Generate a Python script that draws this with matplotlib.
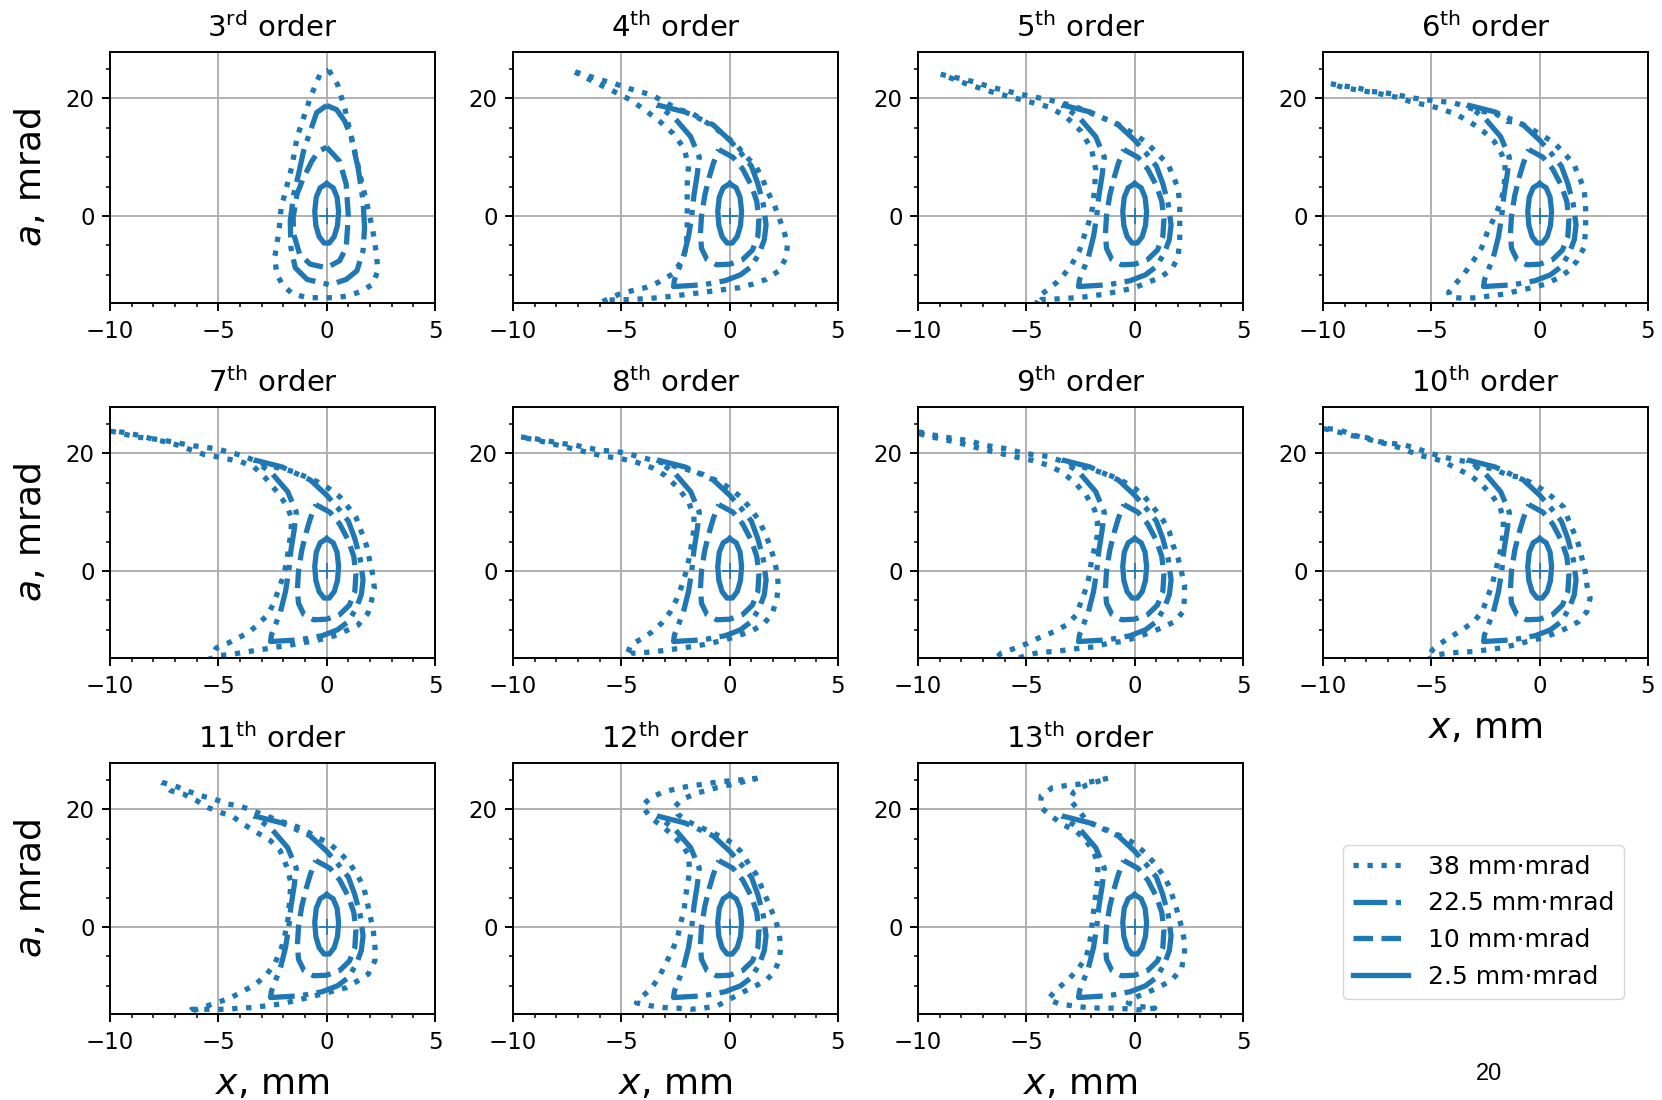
import matplotlib
matplotlib.use("Agg")
import matplotlib.pyplot as plt
from matplotlib.ticker import MultipleLocator

BLUE = "#1f77b4"
FIG_W, FIG_H = 1662, 1100

# panel order numbers (row by row), the last grid slot holds the legend
ORDERS = [3, 4, 5, 6, 7, 8, 9, 10, 11, 12, 13]
EMITTANCE_LABELS = ["38 mm\u00b7mrad", "22.5 mm\u00b7mrad", "10 mm\u00b7mrad", "2.5 mm\u00b7mrad"]
LINE_STYLES = [":", "-.", "--", "-"]

# 2.5 mm mrad contour (same in all orders)
E25 = [(0.0, 5.5), (0.3, 4.8), (0.48, 3.2), (0.55, 0.8), (0.5, -1.6), (0.35, -3.5),
       (0.12, -4.6), (-0.12, -4.6), (-0.35, -3.5), (-0.5, -1.6), (-0.55, 0.8),
       (-0.48, 3.2), (-0.3, 4.8), (0.0, 5.5)]

# 10 mm mrad contours
C10_3 = [(0.0, 11.7), (0.6, 9.3), (0.9, 5.4), (1.0, 0.0), (0.9, -5.4), (0.6, -7.6),
         (0.0, -8.8), (-0.76, -8.2), (-1.25, -6.5), (-1.52, -3.1), (-1.55, -0.3),
         (-1.37, 3.7), (-1.07, 6.5), (-0.69, 9.3), (-0.38, 11.0), (0.0, 11.7)]
C10 = [(-0.5, 11.3), (0.15, 10.0), (0.6, 8.0), (1.0, 5.2), (1.25, 2.5), (1.35, -0.5),
       (1.3, -3.5), (1.05, -5.8), (0.6, -7.4), (0.0, -8.2), (-0.6, -8.3), (-1.05, -7.4),
       (-1.3, -5.5), (-1.35, -3.0), (-1.3, 0.0), (-1.15, 3.5), (-0.95, 6.5), (-0.75, 9.0),
       (-0.5, 11.3)]

# 22.5 mm mrad contours
C225_3 = [(0.0, 18.8), (0.46, 18.1), (0.84, 16.1), (1.14, 13.3), (1.45, 8.2), (1.68, 2.5),
          (1.75, -2.0), (1.68, -5.9), (1.4, -9.3), (0.9, -10.8), (0.15, -11.7), (-0.9, -10.8),
          (-1.45, -8.8), (-1.65, -5.4), (-1.68, -0.85), (-1.52, 3.7), (-1.3, 7.1),
          (-1.07, 11.0), (-0.76, 14.4), (-0.46, 17.6), (0.0, 18.8)]
C225 = [(-3.35, 18.9), (-2.06, 17.7), (-0.76, 15.5), (0.0, 12.9), (0.5, 10.8), (1.0, 8.5),
        (1.3, 5.5), (1.55, 2.0), (1.68, -1.5), (1.6, -4.0), (1.37, -6.3), (1.0, -8.6),
        (0.5, -10.0), (-0.2, -11.0), (-1.22, -11.7), (-2.59, -12.0), (-2.55, -10.9),
        (-2.13, -6.9), (-1.9, -3.5), (-1.75, 0.0), (-1.65, 3.5), (-1.5, 7.0), (-1.4, 10.0),
        (-1.8, 13.5), (-2.5, 16.5), (-3.35, 18.9)]

# 38 mm mrad contours, one per order
O38_3 = [(0.1, 24.8), (0.5, 22.4), (0.85, 18.1), (1.0, 15.6), (1.22, 12.2), (1.45, 8.5),
         (1.68, 4.8), (1.9, 1.4), (2.13, -2.5), (2.3, -6.5), (2.36, -9.3), (2.13, -11.6),
         (1.6, -12.8), (1.0, -13.6), (0.3, -13.9), (-0.9, -13.9), (-1.6, -13.2), (-2.05, -11.6),
         (-2.3, -9.9), (-2.4, -7.1), (-2.2, -2.5), (-2.1, 1.4), (-1.9, 4.2), (-1.6, 8.5),
         (-1.37, 13.3), (-1.14, 15.9), (-0.76, 20.1), (-0.3, 24.2), (0.1, 24.8)]
O38_4 = [(-7.13, 24.5), (-6.5, 23.8), (-5.9, 23.1), (-5.3, 22.5), (-4.66, 21.7), (-4.1, 21.1),
         (-3.6, 20.6), (-2.96, 19.3), (-2.35, 18.1), (-1.8, 17.6), (-1.27, 16.4), (-0.65, 14.9),
         (-0.19, 13.6), (0.28, 12.2), (0.74, 10.2), (1.2, 8.5), (1.5, 6.5), (1.74, 4.2),
         (2.05, 2.0), (2.28, -0.3), (2.5, -2.5), (2.67, -4.8), (2.6, -7.1), (2.28, -9.3),
         (1.67, -10.8), (1.05, -11.6), (0.43, -12.2), (-0.65, -12.7), (-1.88, -13.3),
         (-3.27, -13.9), (-4.5, -14.2), (-5.6, -14.3), (-5.9, -14.6), (-5.1, -13.3),
         (-4.5, -12.7), (-3.9, -12.2), (-3.3, -11.3), (-2.65, -9.9), (-2.2, -7.6), (-2.0, -5.4),
         (-1.96, -2.0), (-1.96, 2.5), (-1.96, 5.4), (-1.9, 8.5), (-2.1, 11.5), (-2.6, 14.0),
         (-3.2, 16.0), (-3.9, 18.0), (-4.6, 19.8), (-5.4, 21.3), (-6.2, 22.7), (-7.13, 24.5)]
O38_5 = [(-8.95, 24.1), (-7.7, 23.1), (-6.5, 21.8), (-5.25, 20.7), (-4.0, 19.8), (-2.8, 18.7),
         (-1.7, 17.0), (-0.9, 15.9), (-0.46, 14.9), (0.0, 13.9), (0.54, 12.5), (1.08, 10.5),
         (1.54, 8.8), (1.77, 6.8), (2.0, 4.8), (2.08, 2.0), (2.08, -0.85), (2.08, -4.2),
         (2.0, -7.1), (1.7, -9.1), (1.16, -10.5), (0.6, -11.3), (0.0, -12.2), (-0.6, -12.7),
         (-1.4, -13.3), (-2.0, -13.6), (-2.6, -13.9), (-3.25, -14.0), (-3.85, -14.2),
         (-4.3, -14.2), (-4.6, -15.3), (-4.3, -13.3), (-4.0, -12.5), (-3.6, -11.3),
         (-3.25, -9.9), (-2.9, -8.2), (-2.55, -5.9), (-2.3, -3.1), (-2.1, -0.85), (-1.95, 1.4),
         (-1.85, 4.5), (-1.8, 8.0), (-2.0, 11.5), (-2.5, 14.5), (-3.2, 17.0), (-4.0, 18.6),
         (-5.25, 19.8), (-6.5, 21.0), (-7.7, 22.4), (-8.95, 24.1)]
O38_6 = [(-9.64, 22.5), (-9.0, 22.1), (-8.4, 21.8), (-7.8, 21.2), (-7.2, 21.0), (-6.55, 20.6),
         (-5.9, 20.1), (-5.3, 19.8), (-4.6, 19.5), (-4.0, 19.3), (-3.5, 18.7), (-2.75, 17.8),
         (-2.1, 17.6), (-1.5, 16.1), (-0.98, 15.9), (-0.43, 14.9), (0.03, 13.9), (0.65, 12.5),
         (1.1, 10.8), (1.58, 8.8), (1.8, 6.8), (2.04, 4.8), (2.12, 2.0), (2.12, -0.3),
         (2.12, -2.5), (2.04, -5.4), (1.73, -7.6), (1.35, -9.3), (0.88, -10.5), (0.26, -11.6),
         (-0.36, -12.2), (-0.98, -12.7), (-1.67, -13.3), (-2.3, -13.6), (-2.9, -13.9),
         (-3.53, -14.0), (-4.15, -13.8), (-4.2, -13.0), (-3.9, -11.6), (-3.5, -9.9),
         (-3.06, -7.6), (-2.68, -5.4), (-2.45, -3.1), (-2.14, -0.6), (-1.83, 2.0), (-1.67, 4.2),
         (-1.6, 6.8), (-1.6, 8.8), (-1.75, 10.5), (-2.1, 12.7), (-2.6, 14.4), (-3.06, 15.6),
         (-3.84, 17.3), (-4.7, 18.4), (-5.4, 19.0), (-6.0, 19.5), (-6.6, 20.2), (-7.25, 20.7),
         (-7.85, 21.1), (-8.5, 21.5), (-9.1, 21.9), (-9.64, 22.5)]
O38_7 = [(-10.6, 24.2), (-9.83, 23.7), (-8.77, 22.8), (-7.6, 22.3), (-6.33, 21.4), (-5.1, 20.8),
         (-3.96, 19.7), (-2.74, 18.0), (-1.52, 16.9), (-0.38, 15.1), (0.08, 14.1), (0.61, 12.6),
         (0.99, 10.9), (1.37, 9.0), (1.6, 6.7), (1.83, 4.4), (1.98, 1.9), (2.13, -0.7),
         (2.2, -2.9), (2.06, -5.2), (1.9, -7.2), (1.45, -9.2), (0.99, -10.0), (0.46, -10.9),
         (0.0, -11.4), (-0.6, -11.9), (-1.22, -12.3), (-1.83, -12.7), (-2.44, -13.0),
         (-3.05, -13.4), (-3.8, -13.8), (-4.4, -14.2), (-5.03, -14.4), (-5.4, -15.0),
         (-5.1, -13.1), (-4.57, -12.3), (-4.1, -11.4), (-3.66, -10.6), (-3.2, -9.2),
         (-2.74, -7.5), (-2.44, -5.5), (-2.2, -2.9), (-1.98, -0.7), (-1.83, 1.9), (-1.75, 4.1),
         (-1.65, 6.4), (-1.62, 9.0), (-1.85, 11.2), (-2.3, 13.5), (-2.82, 15.8), (-3.35, 17.7),
         (-3.96, 18.6), (-5.03, 19.4), (-5.64, 19.8), (-6.25, 20.6), (-6.86, 21.4),
         (-7.47, 22.0), (-8.08, 22.5), (-8.7, 23.1), (-9.4, 23.6), (-10.6, 24.2)]
O38_8 = [(-9.63, 22.8), (-8.98, 22.5), (-8.36, 22.1), (-7.75, 21.7), (-7.13, 21.4), (-6.5, 20.9),
         (-5.9, 20.5), (-5.3, 20.4), (-4.66, 19.9), (-4.04, 19.3), (-3.4, 18.7), (-2.8, 18.1),
         (-2.0, 17.3), (-1.2, 16.4), (-0.5, 15.2), (0.0, 14.1), (0.5, 12.6), (0.9, 10.9),
         (1.3, 8.9), (1.6, 6.7), (1.85, 4.4), (2.05, 2.0), (2.2, -0.5), (2.25, -2.9),
         (2.15, -5.2), (1.95, -7.3), (1.55, -9.1), (1.0, -10.2), (0.4, -11.0), (-0.2, -11.7),
         (-0.9, -12.3), (-1.6, -12.8), (-2.4, -13.2), (-3.2, -13.6), (-4.0, -13.9),
         (-4.58, -14.0), (-4.75, -14.5), (-4.58, -12.6), (-4.1, -11.6), (-3.6, -10.4),
         (-3.15, -8.9), (-2.75, -7.0), (-2.45, -4.8), (-2.2, -2.4), (-2.0, 0.0), (-1.85, 2.5),
         (-1.75, 4.8), (-1.65, 7.0), (-1.65, 9.3), (-1.9, 11.8), (-2.4, 14.2), (-3.0, 16.3),
         (-3.6, 17.6), (-4.3, 18.5), (-5.0, 19.1), (-5.9, 19.6), (-6.8, 20.4), (-7.7, 21.2),
         (-8.6, 22.0), (-9.63, 22.8)]
O38_9 = [(-10.6, 24.1), (-10.0, 23.7), (-9.4, 23.2), (-8.8, 22.8), (-8.25, 22.5), (-7.7, 22.2),
         (-7.1, 21.6), (-6.5, 21.1), (-5.9, 20.8), (-5.3, 20.2), (-4.7, 19.8), (-4.0, 19.5),
         (-3.3, 18.6), (-2.6, 17.9), (-1.9, 17.2), (-1.1, 16.2), (-0.46, 15.1), (0.0, 14.1),
         (0.46, 12.6), (0.85, 10.9), (1.3, 8.7), (1.6, 6.7), (1.77, 4.4), (2.0, 2.2),
         (2.16, -0.1), (2.3, -2.4), (2.3, -4.6), (2.24, -6.9), (1.85, -8.6), (1.23, -9.7),
         (0.6, -10.6), (0.0, -11.4), (-0.6, -12.0), (-1.23, -12.3), (-1.85, -12.9),
         (-2.47, -13.1), (-3.08, -13.4), (-3.7, -13.7), (-4.3, -13.8), (-5.0, -14.3),
         (-5.8, -15.5), (-6.6, -15.5), (-6.17, -14.0), (-5.5, -13.1), (-4.94, -12.3),
         (-4.32, -11.2), (-3.7, -10.3), (-3.16, -9.2), (-2.7, -7.5), (-2.47, -5.2),
         (-2.24, -2.9), (-2.08, -0.7), (-2.0, 1.6), (-1.85, 3.9), (-1.72, 6.1), (-1.72, 8.4),
         (-1.85, 10.4), (-2.24, 12.9), (-2.8, 15.2), (-3.4, 16.9), (-4.0, 18.0), (-4.7, 18.8),
         (-5.5, 19.4), (-6.3, 20.1), (-7.1, 20.8), (-7.9, 21.6), (-8.7, 22.3), (-9.5, 22.9),
         (-10.6, 24.1)]
O38_10 = [(-10.6, 24.6), (-9.94, 24.2), (-9.25, 23.6), (-8.63, 23.0), (-8.0, 22.7), (-7.4, 22.0),
          (-6.8, 21.7), (-6.2, 21.4), (-5.64, 20.8), (-5.03, 20.0), (-4.42, 19.4), (-3.88, 18.9),
          (-3.34, 18.6), (-2.73, 17.7), (-2.1, 17.4), (-1.5, 16.3), (-0.97, 16.0), (-0.43, 15.1),
          (0.03, 14.1), (0.57, 12.6), (1.1, 10.9), (1.33, 8.7), (1.56, 6.7), (1.8, 4.4),
          (1.95, 2.2), (2.1, -0.1), (2.18, -2.4), (2.33, -4.6), (2.18, -6.9), (1.8, -8.6),
          (1.26, -9.7), (0.72, -10.6), (0.1, -11.4), (-0.58, -12.0), (-1.2, -12.6),
          (-1.8, -13.1), (-2.42, -13.4), (-3.04, -13.7), (-3.65, -13.8), (-4.26, -14.0),
          (-4.8, -14.3), (-5.2, -15.2), (-4.95, -13.4), (-4.57, -12.3), (-4.1, -11.2),
          (-3.57, -10.0), (-3.04, -8.6), (-2.65, -6.9), (-2.42, -4.6), (-2.2, -2.4),
          (-2.04, -0.1), (-1.89, 2.2), (-1.75, 4.4), (-1.68, 7.0), (-1.68, 9.0), (-1.82, 10.7),
          (-2.2, 12.9), (-2.65, 14.6), (-3.2, 16.3), (-3.88, 17.5), (-4.42, 18.6),
          (-4.95, 19.2), (-5.57, 19.7), (-6.18, 20.6), (-6.8, 21.4), (-7.4, 21.9), (-8.0, 22.5),
          (-8.63, 23.2), (-9.25, 24.0), (-10.6, 24.6)]
O38_11 = [(-7.6, 24.6), (-7.0, 24.0), (-6.4, 23.1), (-5.77, 22.3), (-5.15, 21.7), (-4.54, 20.9),
          (-4.0, 20.6), (-3.38, 19.7), (-2.77, 18.9), (-2.15, 18.0), (-1.6, 17.4), (-1.08, 16.6),
          (-0.46, 15.3), (0.08, 14.3), (0.54, 12.9), (1.0, 11.1), (1.38, 9.1), (1.7, 6.9),
          (1.85, 4.6), (2.0, 2.0), (2.15, -0.6), (2.23, -3.4), (2.23, -5.7), (1.92, -8.0),
          (1.46, -9.1), (0.92, -10.3), (0.31, -10.9), (-0.23, -11.4), (-0.85, -12.0),
          (-1.54, -12.6), (-2.15, -13.1), (-2.77, -13.4), (-3.38, -13.7), (-4.0, -13.8),
          (-4.6, -14.0), (-5.3, -14.0), (-5.77, -14.0), (-6.23, -14.0), (-6.4, -14.5),
          (-5.5, -13.4), (-4.46, -12.1), (-3.85, -10.9), (-3.3, -9.8), (-2.77, -8.1),
          (-2.38, -6.1), (-2.08, -3.5), (-1.92, -1.2), (-1.77, 1.7), (-1.7, 5.1), (-1.65, 7.4),
          (-1.8, 9.9), (-2.15, 13.0), (-2.6, 14.7), (-3.23, 16.1), (-3.85, 17.5), (-4.3, 18.7),
          (-4.9, 19.5), (-5.46, 20.3), (-6.0, 21.5), (-6.6, 22.6), (-7.2, 23.2), (-7.6, 24.6)]
O38_12 = [(1.28, 25.3), (0.74, 25.1), (0.12, 24.9), (-0.5, 24.7), (-1.2, 24.3), (-1.8, 24.0),
          (-2.4, 23.6), (-3.1, 22.9), (-3.65, 22.0), (-4.04, 20.6), (-3.65, 18.6), (-3.1, 17.1),
          (-2.65, 15.7), (-2.2, 14.0), (-1.9, 12.3), (-1.85, 9.5), (-1.95, 7.0), (-2.04, 5.1),
          (-2.1, 2.9), (-2.27, 0.6), (-2.4, -1.7), (-2.65, -4.0), (-2.96, -6.3), (-3.27, -8.6),
          (-3.65, -10.6), (-4.2, -12.3), (-4.3, -12.9), (-3.65, -13.4), (-3.04, -13.7),
          (-2.4, -13.8), (-1.8, -14.0), (-1.2, -13.8), (-0.57, -13.4), (0.0, -12.3),
          (0.6, -11.1), (1.2, -10.0), (1.67, -9.1), (2.05, -7.7), (2.28, -5.7), (2.36, -3.4),
          (2.28, -1.1), (2.13, 1.1), (1.9, 3.1), (1.67, 5.1), (1.44, 7.1), (1.2, 9.1),
          (0.9, 10.6), (0.5, 12.9), (0.12, 14.3), (-0.42, 15.4), (-0.96, 16.3), (-1.42, 17.1),
          (-1.96, 18.0), (-2.4, 19.2), (-2.55, 20.4), (-2.2, 21.7), (-1.5, 22.8), (-0.6, 23.7),
          (0.4, 24.5), (1.28, 25.3)]
O38_13 = [(-1.23, 25.3), (-1.77, 24.9), (-2.55, 24.3), (-3.1, 24.1), (-3.8, 23.7), (-4.32, 22.3),
          (-4.32, 20.3), (-3.86, 18.9), (-3.3, 17.4), (-2.7, 16.3), (-2.3, 14.9), (-1.93, 13.1),
          (-1.7, 10.9), (-1.7, 8.6), (-1.77, 6.3), (-1.85, 4.0), (-1.93, 1.7), (-2.0, -0.6),
          (-2.08, -2.9), (-2.24, -5.1), (-2.6, -7.1), (-3.1, -9.1), (-3.6, -10.6), (-4.0, -12.3),
          (-3.47, -13.1), (-2.86, -13.4), (-2.24, -13.7), (-1.62, -13.8), (-1.0, -13.8),
          (-0.46, -13.9), (0.15, -14.1), (0.93, -13.8), (0.15, -13.5), (-0.3, -12.9),
          (0.0, -12.0), (0.62, -11.1), (1.23, -10.0), (1.7, -9.1), (2.16, -7.1), (2.3, -4.6),
          (2.3, -2.4), (2.16, 0.0), (2.0, 2.3), (1.8, 4.6), (1.6, 6.9), (1.3, 8.9), (0.9, 10.9),
          (0.45, 12.7), (0.0, 14.2), (-0.5, 15.2), (-1.0, 16.1), (-1.6, 17.0), (-2.2, 18.0),
          (-2.62, 20.0), (-3.0, 21.7), (-2.8, 23.0), (-2.2, 24.2), (-1.23, 25.3)]

O38 = [O38_3, O38_4, O38_5, O38_6, O38_7, O38_8, O38_9, O38_10, O38_11, O38_12, O38_13]

# axes frames in pixels: column left edges, row top edges, width, height
COL_LEFT = [110, 513, 918, 1323]
ROW_TOP = [52, 407, 763]
AX_W, AX_H = 325, 251

plt.rcParams.update({
    "font.family": "DejaVu Sans",
    "mathtext.fontset": "dejavusans",
    "axes.linewidth": 1.4,
    "xtick.major.width": 1.4, "ytick.major.width": 1.4,
    "xtick.minor.width": 1.1, "ytick.minor.width": 1.1,
    "xtick.major.size": 5.5, "ytick.major.size": 5.5,
    "xtick.minor.size": 3.2, "ytick.minor.size": 3.2,
    "xtick.major.pad": 7, "ytick.major.pad": 5.5,
    "xtick.labelsize": 16.5, "ytick.labelsize": 16.5,
})

fig = plt.figure(figsize=(FIG_W / 100, FIG_H / 100), dpi=100)


def suffix(n):
    return "rd" if n == 3 else "th"


handles = []
for i, order in enumerate(ORDERS):
    row, col = divmod(i, 4)
    rect = [COL_LEFT[col] / FIG_W, 1 - (ROW_TOP[row] + AX_H) / FIG_H, AX_W / FIG_W, AX_H / FIG_H]
    ax = fig.add_axes(rect)
    ax.grid(True, color="#b0b0b0", lw=1.4)
    ax.set_axisbelow(True)

    if order == 3:
        curves = [O38[i], C225_3, C10_3, E25]
    else:
        curves = [O38[i], C225, C10, E25]
    lines = []
    for pts, ls, lab in zip(curves, LINE_STYLES, EMITTANCE_LABELS):
        xs, ys = zip(*pts)
        ln, = ax.plot(xs, ys, ls=ls, lw=3.8, color=BLUE, label=lab)
        lines.append(ln)
    ax.plot([0], [0], marker="+", ms=12, mew=1.2, color=BLUE, ls="none")
    if i == 0:
        handles = lines

    ax.set_xlim(-10, 5)
    ax.set_ylim(-14.8, 27.9)
    ax.xaxis.set_major_locator(MultipleLocator(5))
    ax.xaxis.set_minor_locator(MultipleLocator(1))
    ax.yaxis.set_major_locator(MultipleLocator(20))
    ax.yaxis.set_minor_locator(MultipleLocator(5))
    ax.set_title(rf"{order}$^{{\mathrm{{{suffix(order)}}}}}$ order", fontsize=21, pad=11)
    if col == 0:
        ax.set_ylabel(r"$a$, mrad", fontsize=26, labelpad=13)
    if row == 2 or (row == 1 and col == 3):
        ax.set_xlabel(r"$x$, mm", fontsize=26, labelpad=9)

fig.legend(handles, EMITTANCE_LABELS, loc="upper left",
           bbox_to_anchor=(1343 / FIG_W, 1 - 845 / FIG_H), borderaxespad=0,
           fontsize=18, handlelength=2.2, frameon=True)

fig.text(1489 / FIG_W, 1 - 1074 / FIG_H, "20", ha="center", va="center",
         fontsize=17, family="Liberation Sans")

fig.savefig("out.png", dpi=100)
